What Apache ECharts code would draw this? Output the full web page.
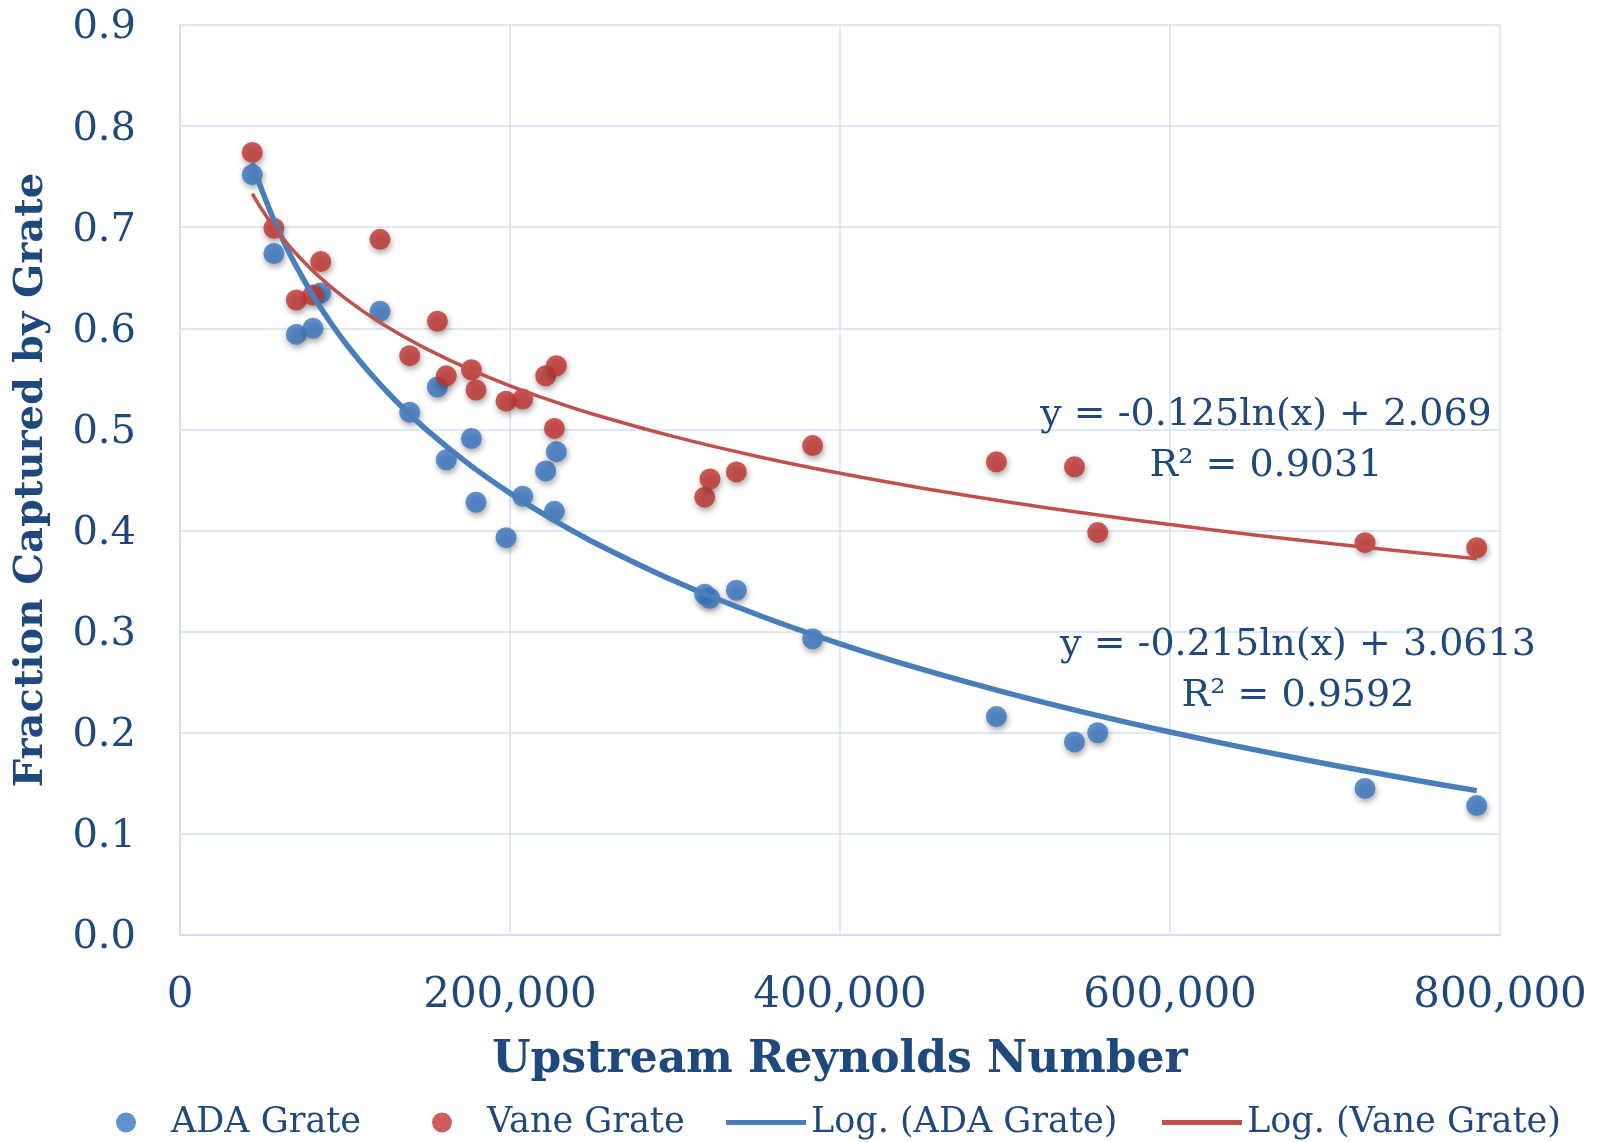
<!DOCTYPE html>
<html>
<head>
<meta charset="utf-8">
<script src="https://cdn.jsdelivr.net/npm/echarts@6/dist/echarts.min.js"></script>
<style>
html,body{margin:0;padding:0;background:#fff;}
#chart{width:1598px;height:1142px;}
</style>
</head>
<body>
<div id="chart"></div>
<script>
// Upstream Reynolds number for each test (shared by both grates)
var reynolds = [43800, 56900, 70500, 80600, 85300, 121200, 139200, 156000, 161400, 176600,
  179400, 197600, 207700, 221600, 228100, 226900, 318000, 321200, 337200, 383400,
  494800, 542100, 556200, 718200, 785900];
var adaGrate = [0.752, 0.674, 0.594, 0.600, 0.635, 0.617, 0.517, 0.542, 0.470, 0.491,
  0.428, 0.393, 0.434, 0.459, 0.478, 0.419, 0.337, 0.333, 0.341, 0.293,
  0.216, 0.191, 0.200, 0.145, 0.128];
var vaneGrate = [0.774, 0.699, 0.628, 0.633, 0.666, 0.688, 0.573, 0.607, 0.553, 0.559,
  0.539, 0.528, 0.530, 0.553, 0.563, 0.501, 0.433, 0.451, 0.458, 0.484,
  0.468, 0.463, 0.398, 0.388, 0.383];
// logarithmic trendline curves
var trendX = [43800, 47000, 50000, 55000, 60000, 65000, 70000, 80000, 90000, 100000,
  115000, 130000, 150000, 175000, 200000, 225000, 250000, 300000, 350000, 400000,
  450000, 500000, 550000, 600000, 650000, 700000, 750000, 785900];
var trendAda = [0.7635, 0.7484, 0.7350, 0.7145, 0.6958, 0.6787, 0.6627, 0.6340, 0.6087, 0.5860,
  0.5560, 0.5296, 0.4988, 0.4657, 0.4370, 0.4117, 0.3890, 0.3498, 0.3167, 0.2880,
  0.2626, 0.2400, 0.2195, 0.2008, 0.1836, 0.1677, 0.1528, 0.1428];
var trendVane = [0.7331, 0.7243, 0.7165, 0.7046, 0.6937, 0.6837, 0.6745, 0.6578, 0.6430, 0.6299,
  0.6124, 0.5971, 0.5792, 0.5599, 0.5432, 0.5285, 0.5153, 0.4926, 0.4733, 0.4566,
  0.4419, 0.4287, 0.4168, 0.4059, 0.3959, 0.3866, 0.3780, 0.3722];
var eqVane = ['y = -0.125ln(x) + 2.069', 'R² = 0.9031'];
var eqAda = ['y = -0.215ln(x) + 3.0613', 'R² = 0.9592'];

function pairs(xs, ys) { return xs.map(function (x, i) { return [x, ys[i]]; }); }

var FONT = 'DejaVu Serif';
var NAVY = '#1F497D';
var GRID = '#D3E0F3';
var BLUE_PT = '#3A77C2', RED_PT = '#C2352F';
var BLUE_LN = '#4A7EBB', RED_LN = '#C0504D';

var chart = echarts.init(document.getElementById('chart'));
var markerStyle = function (c) {
  return { color: c, shadowBlur: 6, shadowColor: 'rgba(0,0,0,0.45)', shadowOffsetX: 1, shadowOffsetY: 3 };
};
function legendItem(name, left, icon, w, h) {
  return {
    data: [{ name: name, icon: icon }],
    left: left, top: 1100, itemWidth: w, itemHeight: h, itemGap: 0,
    textStyle: { fontFamily: FONT, fontSize: 35, color: NAVY },
    selectedMode: false
  };
}
function eqText(lines, cx, y0) {
  return lines.map(function (t, i) {
    return { type: 'text', x: cx, y: y0 + i * 51, z: 10,
      style: { text: t, fontFamily: FONT, fontSize: 38, fill: NAVY, align: 'center', verticalAlign: 'middle' } };
  });
}
chart.setOption({
  animation: false,
  backgroundColor: '#fff',
  grid: { left: 180, right: 98, top: 25, bottom: 207 },
  legend: [
    legendItem('ADA Grate', 111, 'circle', 80, 20),
    legendItem('Vane Grate', 427, 'circle', 80, 20),
    legendItem('Log. (ADA Grate)', 721, 'rect', 80, 5),
    legendItem('Log. (Vane Grate)', 1157, 'rect', 80, 5)
  ],
  xAxis: {
    type: 'value', min: 0, max: 800000, interval: 200000,
    name: 'Upstream Reynolds Number', nameLocation: 'middle', nameGap: 104,
    nameTextStyle: { fontFamily: FONT, fontSize: 44, fontWeight: 'bold', color: NAVY },
    axisLine: { show: true, lineStyle: { color: GRID, width: 2 } },
    axisTick: { show: false },
    splitLine: { show: true, lineStyle: { color: GRID, width: 1.5 } },
    axisLabel: {
      fontFamily: FONT, fontSize: 42, color: NAVY, margin: 40,
      formatter: function (v) { return v.toLocaleString('en-US'); }
    }
  },
  yAxis: {
    type: 'value', min: 0, max: 0.9, interval: 0.1,
    name: 'Fraction Captured by Grate', nameLocation: 'middle', nameGap: 128,
    nameTextStyle: { fontFamily: FONT, fontSize: 40, fontWeight: 'bold', color: NAVY },
    axisLine: { show: true, lineStyle: { color: GRID, width: 2 } },
    axisTick: { show: false },
    splitLine: { show: true, lineStyle: { color: GRID, width: 1.5 } },
    axisLabel: {
      fontFamily: FONT, fontSize: 40, color: NAVY, margin: 44,
      verticalAlign: 'top', padding: [-17, 0, 0, 0],
      formatter: function (v) { return v.toFixed(1); }
    }
  },
  series: [
    { name: 'Log. (ADA Grate)', type: 'line', data: pairs(trendX, trendAda), smooth: 0.3,
      symbol: 'none', color: BLUE_LN, lineStyle: { color: BLUE_LN, width: 5.5 }, z: 3 },
    { name: 'Log. (Vane Grate)', type: 'line', data: pairs(trendX, trendVane), smooth: 0.3,
      symbol: 'none', color: RED_LN, lineStyle: { color: RED_LN, width: 3.5 }, z: 3 },
    { name: 'ADA Grate', type: 'scatter', data: pairs(reynolds, adaGrate), symbolSize: 21,
      color: BLUE_PT, itemStyle: markerStyle(BLUE_PT), z: 2 },
    { name: 'Vane Grate', type: 'scatter', data: pairs(reynolds, vaneGrate), symbolSize: 21,
      color: RED_PT, itemStyle: markerStyle(RED_PT), z: 2 }
  ],
  graphic: eqText(eqVane, 1266, 415).concat(eqText(eqAda, 1298, 645))
});
</script>
</body>
</html>
